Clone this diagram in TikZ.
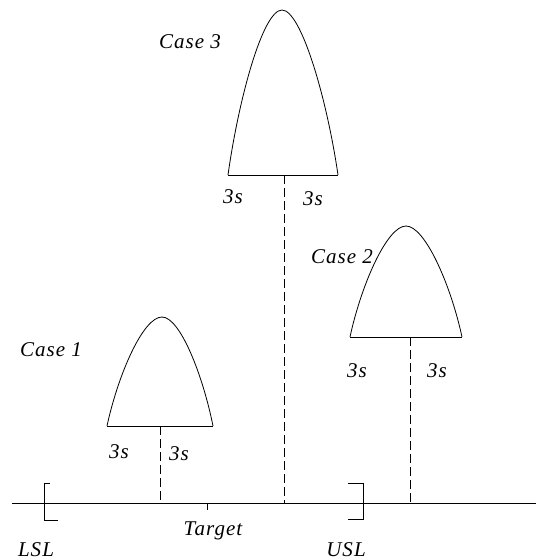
\documentclass[tikz,border=0pt]{standalone}
\usepackage{fontspec}
\setmainfont{Liberation Serif}
\begin{document}
\begin{tikzpicture}[x=1pt,y=-1pt,
  lbl/.style={font=\fontsize{21}{23}\selectfont\itshape\addfontfeatures{LetterSpace=5}, inner sep=0pt},
  curve/.style={line width=0.8pt},
  base/.style={line width=1pt},
  drop/.style={line width=0.9pt, dash pattern=on 9pt off 4pt}]
\useasboundingbox (0,0) rectangle (536,560);
% axis
\coordinate (axL) at (12,503);
\coordinate (axR) at (536,503);
\draw[line width=0.8pt] (axL) -- (axR);
% LSL bracket
\draw[line width=0.9pt] (50,483) -- (44,483) -- (44,520) -- (58,520);
% USL bracket
\draw[line width=0.9pt] (348,483) -- (363,483) -- (363,519) -- (348,519);
% target tick
\coordinate (tg) at (207,503);
\draw[line width=0.8pt] (tg) -- ++(0,7);
\node[lbl] (target) at (213,531) {Target};
\node[lbl] (lsl) at (36,550) {LSL};
\node[lbl] (usl) at (346,550) {USL};
% Case 1
\coordinate (c1a) at (160,426);
\coordinate (c1b) at (160,503);
\draw[curve] (107,426) .. controls (118,375) and (143,317) .. (162,317)
  .. controls (180,317) and (202.8,375) .. (213,426);
\draw[base] (107,426) -- (213,426);
\draw[drop] (c1a) -- (c1b);
\node[lbl] (s1l) at (119,452) {3s};
\node[lbl] (s1r) at (179,454) {3s};
\node[lbl] (case1) at (51,350) {Case 1};
% Case 3
\coordinate (c3a) at (284,175);
\coordinate (c3b) at (284,503);
\draw[curve] (228,175) .. controls (238.8,98) and (263,10) .. (282,10)
  .. controls (301,10) and (326.8,98) .. (338,175);
\draw[base] (228,175) -- (338,175);
\draw[drop] (c3a) -- (c3b);
\node[lbl] (s3l) at (233,197) {3s};
\node[lbl] (s3r) at (313,199) {3s};
\node[lbl] (case3) at (190,42) {Case 3};
% Case 2
\coordinate (c2a) at (410,337);
\coordinate (c2b) at (410,503);
\draw[curve] (350,337) .. controls (361.2,285) and (387,226) .. (406,226)
  .. controls (425,226) and (450.8,285) .. (462,337);
\draw[base] (350,337) -- (462,337);
\draw[drop] (c2a) -- (c2b);
\node[lbl] (s2l) at (357,371) {3s};
\node[lbl] (s2r) at (437,371) {3s};
\node[lbl] (case2) at (342,257) {Case 2};
\end{tikzpicture}
\end{document}
